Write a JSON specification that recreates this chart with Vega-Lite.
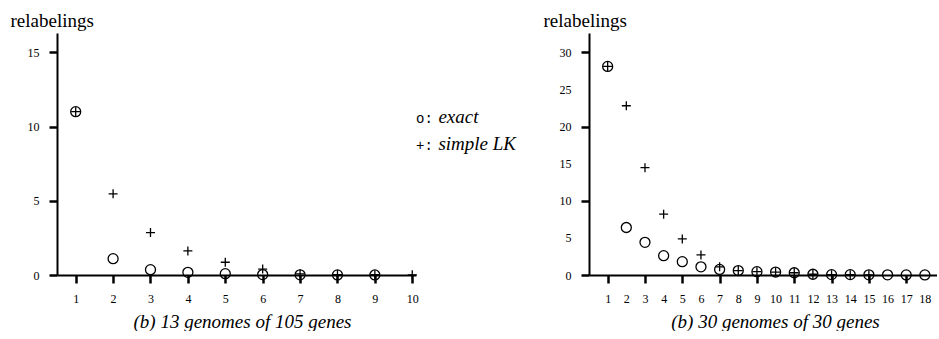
{
  "$schema": "https://vega.github.io/schema/vega-lite/v6.json",
  "padding": {"left": 10, "top": 11, "right": 0, "bottom": 0},
  "background": "white",
  "config": {
    "font": "Liberation Serif",
    "view": {"stroke": null},
    "axis": {
      "grid": false,
      "domainColor": "black",
      "domainWidth": 2,
      "tickColor": "black",
      "tickWidth": 2.5,
      "tickSize": 8,
      "labelFont": "Liberation Serif",
      "labelFontSize": 12,
      "labelColor": "black",
      "labelPadding": 10,
      "labelFlush": false,
      "labelOverlap": false,
      "titleFont": "Liberation Serif",
      "titleFontWeight": "normal",
      "titleColor": "black"
    }
  },
  "datasets": {
    "a": [
      {"n": 1, "method": "exact", "v": 11},
      {"n": 2, "method": "exact", "v": 1.1},
      {"n": 3, "method": "exact", "v": 0.36},
      {"n": 4, "method": "exact", "v": 0.18},
      {"n": 5, "method": "exact", "v": 0.09},
      {"n": 6, "method": "exact", "v": 0.03},
      {"n": 7, "method": "exact", "v": 0.01},
      {"n": 8, "method": "exact", "v": 0.005},
      {"n": 9, "method": "exact", "v": 0.003},
      {"n": 1, "method": "simple LK", "v": 11},
      {"n": 2, "method": "simple LK", "v": 5.47},
      {"n": 3, "method": "simple LK", "v": 2.86},
      {"n": 4, "method": "simple LK", "v": 1.62},
      {"n": 5, "method": "simple LK", "v": 0.86},
      {"n": 6, "method": "simple LK", "v": 0.4},
      {"n": 7, "method": "simple LK", "v": 0.08},
      {"n": 8, "method": "simple LK", "v": 0.03},
      {"n": 9, "method": "simple LK", "v": 0.02},
      {"n": 10, "method": "simple LK", "v": 0.01}
    ],
    "b": [
      {"n": 1, "method": "exact", "v": 28.1},
      {"n": 2, "method": "exact", "v": 6.4},
      {"n": 3, "method": "exact", "v": 4.4},
      {"n": 4, "method": "exact", "v": 2.6},
      {"n": 5, "method": "exact", "v": 1.8},
      {"n": 6, "method": "exact", "v": 1.1},
      {"n": 7, "method": "exact", "v": 0.75},
      {"n": 8, "method": "exact", "v": 0.6},
      {"n": 9, "method": "exact", "v": 0.45},
      {"n": 10, "method": "exact", "v": 0.4},
      {"n": 11, "method": "exact", "v": 0.3},
      {"n": 12, "method": "exact", "v": 0.1},
      {"n": 13, "method": "exact", "v": 0.05},
      {"n": 14, "method": "exact", "v": 0.05},
      {"n": 15, "method": "exact", "v": 0.02},
      {"n": 16, "method": "exact", "v": 0.02},
      {"n": 17, "method": "exact", "v": 0.01},
      {"n": 18, "method": "exact", "v": 0.01},
      {"n": 1, "method": "simple LK", "v": 28.1},
      {"n": 2, "method": "simple LK", "v": 22.8},
      {"n": 3, "method": "simple LK", "v": 14.46},
      {"n": 4, "method": "simple LK", "v": 8.2},
      {"n": 5, "method": "simple LK", "v": 4.86},
      {"n": 6, "method": "simple LK", "v": 2.7},
      {"n": 7, "method": "simple LK", "v": 1.1},
      {"n": 8, "method": "simple LK", "v": 0.6},
      {"n": 9, "method": "simple LK", "v": 0.45},
      {"n": 10, "method": "simple LK", "v": 0.4},
      {"n": 11, "method": "simple LK", "v": 0.3},
      {"n": 12, "method": "simple LK", "v": 0.1},
      {"n": 13, "method": "simple LK", "v": 0.05},
      {"n": 14, "method": "simple LK", "v": 0.05},
      {"n": 15, "method": "simple LK", "v": 0.02}
    ]
  },
  "spacing": 26,
  "hconcat": [
    {
      "width": 359,
      "height": 242,
      "layer": [
        {
          "data": {"name": "a"},
          "mark": {"type": "point", "filled": false, "stroke": "black", "strokeWidth": 1.3, "opacity": 1, "clip": false},
          "encoding": {
            "x": {
              "field": "n", "type": "quantitative",
              "scale": {"domain": [0.5, 10.1], "nice": false, "zero": false},
              "axis": {
                "values": [1, 2, 3, 4, 5, 6, 7, 8, 9, 10],
                "format": "d",
                "labelOverlap": false,
                "title": "(b) 13 genomes of 105 genes",
                "titleFontStyle": "italic",
                "titleFontSize": 19,
                "titleX": 185,
                "titleY": 52,
                "titleAlign": "center",
                "titleBaseline": "alphabetic"
              }
            },
            "y": {
              "field": "v", "type": "quantitative",
              "scale": {"domain": [0, 16.3], "nice": false},
              "axis": {
                "values": [0, 5, 10, 15],
                "labelOverlap": false,
                "title": "relabelings",
                "titleAngle": 0,
                "titleAlign": "left",
                "titleBaseline": "alphabetic",
                "titleX": -47,
                "titleY": -7,
                "titleFontSize": 19
              }
            },
            "shape": {
              "field": "method", "type": "nominal",
              "scale": {"domain": ["exact", "simple LK"], "range": ["circle", "M-1,0L1,0M0,-1L0,1"]},
              "legend": null
            },
            "size": {
              "field": "method", "type": "nominal",
              "scale": {"domain": ["exact", "simple LK"], "range": [100, 81]},
              "legend": null
            }
          }
        },
        {
          "data": {"values": [{}]},
          "mark": {"type": "text", "text": ["o:", "+:"], "lineHeight": 27, "font": "Liberation Mono", "fontSize": 14, "align": "left", "baseline": "alphabetic", "color": "black"},
          "encoding": {
            "x": {
              "datum": 10.1, "type": "quantitative",
              "axis": {
                "values": [1, 2, 3, 4, 5, 6, 7, 8, 9, 10],
                "format": "d",
                "labelOverlap": false,
                "title": "(b) 13 genomes of 105 genes",
                "titleFontStyle": "italic",
                "titleFontSize": 19,
                "titleX": 185,
                "titleY": 52,
                "titleAlign": "center",
                "titleBaseline": "alphabetic"
              }
            },
            "y": {
              "datum": 10.26, "type": "quantitative",
              "axis": {
                "values": [0, 5, 10, 15],
                "labelOverlap": false,
                "title": "relabelings",
                "titleAngle": 0,
                "titleAlign": "left",
                "titleBaseline": "alphabetic",
                "titleX": -47,
                "titleY": -7,
                "titleFontSize": 19
              }
            }
          }
        },
        {
          "data": {"values": [{}]},
          "mark": {"type": "text", "text": ["exact", "simple LK"], "lineHeight": 27, "font": "Liberation Serif", "fontStyle": "italic", "fontSize": 19, "align": "left", "baseline": "alphabetic", "color": "black"},
          "encoding": {
            "x": {
              "datum": 10.7, "type": "quantitative",
              "axis": {
                "values": [1, 2, 3, 4, 5, 6, 7, 8, 9, 10],
                "format": "d",
                "labelOverlap": false,
                "title": "(b) 13 genomes of 105 genes",
                "titleFontStyle": "italic",
                "titleFontSize": 19,
                "titleX": 185,
                "titleY": 52,
                "titleAlign": "center",
                "titleBaseline": "alphabetic"
              }
            },
            "y": {
              "datum": 10.26, "type": "quantitative",
              "axis": {
                "values": [0, 5, 10, 15],
                "labelOverlap": false,
                "title": "relabelings",
                "titleAngle": 0,
                "titleAlign": "left",
                "titleBaseline": "alphabetic",
                "titleX": -47,
                "titleY": -7,
                "titleFontSize": 19
              }
            }
          }
        }
      ]
    },
    {
      "width": 348,
      "height": 242,
      "data": {"name": "b"},
      "mark": {"type": "point", "filled": false, "stroke": "black", "strokeWidth": 1.3, "opacity": 1, "clip": false},
      "encoding": {
        "x": {
          "field": "n", "type": "quantitative",
          "scale": {"domain": [0, 18.65], "nice": false, "zero": false},
          "axis": {
            "values": [1, 2, 3, 4, 5, 6, 7, 8, 9, 10, 11, 12, 13, 14, 15, 16, 17, 18],
            "format": "d",
            "labelOverlap": false,
            "tickOpacity": {"condition": {"test": "datum.value % 2 === 0", "value": 0}, "value": 1},
            "title": "(b) 30 genomes of 30 genes",
            "titleFontStyle": "italic",
            "titleFontSize": 19,
            "titleX": 186,
            "titleY": 52,
            "titleAlign": "center",
            "titleBaseline": "alphabetic"
          }
        },
        "y": {
          "field": "v", "type": "quantitative",
          "scale": {"domain": [0, 32.6], "nice": false},
          "axis": {
            "values": [0, 5, 10, 15, 20, 25, 30],
            "labelOverlap": false,
            "tickOpacity": {"condition": {"test": "datum.value % 10 !== 0", "value": 0}, "value": 1},
            "title": "relabelings",
            "titleAngle": 0,
            "titleAlign": "left",
            "titleBaseline": "alphabetic",
            "titleX": -46,
            "titleY": -7,
            "titleFontSize": 19
          }
        },
        "shape": {
          "field": "method", "type": "nominal",
          "scale": {"domain": ["exact", "simple LK"], "range": ["circle", "M-1,0L1,0M0,-1L0,1"]},
          "legend": null
        },
        "size": {
          "field": "method", "type": "nominal",
          "scale": {"domain": ["exact", "simple LK"], "range": [100, 81]},
          "legend": null
        }
      }
    }
  ]
}
